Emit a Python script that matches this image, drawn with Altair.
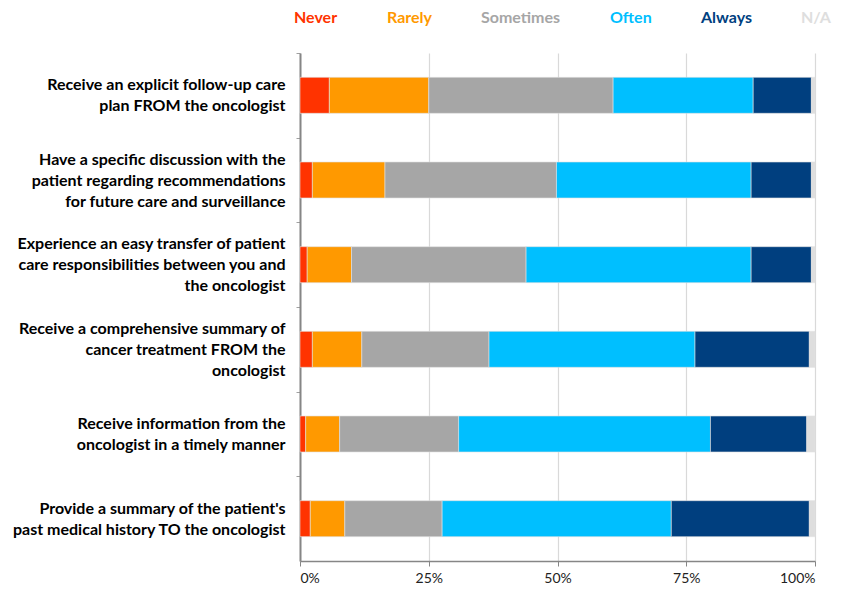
import altair as alt
import pandas as pd

categories = [
    "Receive an explicit follow-up care|plan FROM the oncologist",
    "Have a specific discussion with the|patient regarding recommendations|for future care and surveillance",
    "Experience an easy transfer of patient|care responsibilities between you and|the oncologist",
    "Receive a comprehensive summary of|cancer treatment FROM the|oncologist",
    "Receive information from the|oncologist in a timely manner",
    "Provide a summary of the patient's|past medical history TO the oncologist",
]
responses = ["Never", "Rarely", "Sometimes", "Often", "Always", "N/A"]
colors = ["#FF3300", "#FF9900", "#A6A6A6", "#00BFFF", "#003F7F", "#DEDEDE"]

never = [5.7, 2.4, 1.4, 2.4, 1.1, 2.0]
rarely = [19.3, 14.1, 8.6, 9.6, 6.6, 6.7]
sometimes = [35.8, 33.3, 33.9, 24.7, 23.1, 18.9]
often = [27.2, 37.8, 43.7, 40.0, 48.9, 44.5]
always = [11.3, 11.7, 11.7, 22.2, 18.7, 26.8]
na = [0.7, 0.7, 0.7, 1.1, 1.6, 1.1]

x_ticks = [0, 0.25, 0.5, 0.75, 1.0]

series = [never, rarely, sometimes, often, always, na]
rows = []
for i, cat in enumerate(categories):
    for j, resp in enumerate(responses):
        rows.append({"item": cat, "response": resp, "pct": series[j][i], "order": j})
df = pd.DataFrame(rows)

FONT = "Lato"
W, H = 515, 508
LINE_H = 21
half_step = H / len(categories) / 2

chart = (
    alt.Chart(df)
    .mark_bar(stroke="#E0E0E0", strokeWidth=0.6)
    .encode(
        x=alt.X(
            "pct:Q",
            stack="normalize",
            scale=alt.Scale(domain=[0, 1], nice=False),
            axis=alt.Axis(
                values=x_ticks,
                format="%",
                title=None,
                grid=True,
                gridColor="#D9D9D9",
                gridWidth=1.2,
                domainColor="#868686",
                domainWidth=1.5,
                tickColor="#868686",
                tickSize=5,
                labelFont=FONT,
                labelFontSize=14,
                labelColor="#222222",
                labelPadding=5,
            ),
        ),
        y=alt.Y(
            "item:N",
            sort=categories,
            scale=alt.Scale(paddingInner=0.575, paddingOuter=0.2875),
            axis=alt.Axis(
                title=None,
                labelExpr="split(datum.value, '|')",
                labelFont=FONT,
                labelFontSize=16,
                labelFontWeight="bold",
                labelColor="#000000",
                labelLineHeight=LINE_H,
                labelLimit=0,
                labelPadding=11,
                domainColor="#868686",
                domainWidth=2,
                tickColor="#A0A0A0",
                tickSize=4,
                tickOffset=-half_step,
                labelOffset={
                    "expr": f"{half_step} - (length(split(datum.value, '|')) - 1) * {LINE_H / 2}"
                },
            ),
        ),
        color=alt.Color(
            "response:N",
            sort=responses,
            scale=alt.Scale(domain=responses, range=colors),
            legend=alt.Legend(
                title=None,
                orient="none",
                direction="horizontal",
                legendX=-22,
                legendY=-43,
                symbolSize=0,
                symbolOpacity=0,
                symbolStrokeWidth=0,
                labelOffset=0,
                columnPadding=33,
                labelFont=FONT,
                labelFontSize=16,
                labelFontWeight="bold",
                labelColor={"expr": "scale('color', datum.value)"},
                labelLimit=0,
            ),
        ),
        order=alt.Order("order:Q", sort="ascending"),
    )
    .properties(
        width=W,
        height=H,
        autosize=alt.AutoSizeParams(type="none"),
        padding={"left": 292, "top": 45, "right": 22, "bottom": 23},
    )
    .configure_view(stroke=None)
)

chart.save("out.html", embed_options={"renderer": "svg", "actions": False})
